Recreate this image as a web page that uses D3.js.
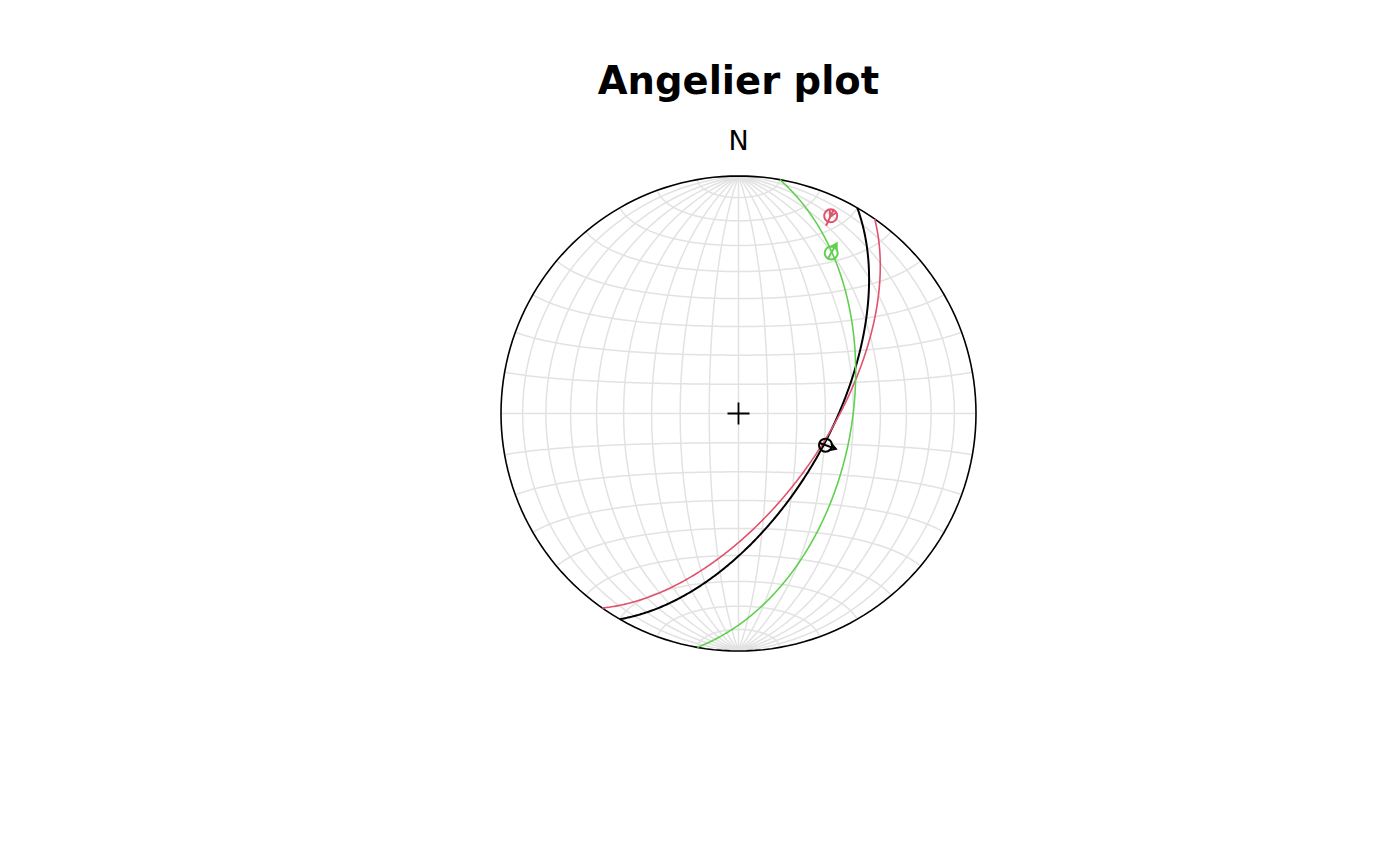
<!DOCTYPE html>
<html>
<head>
<meta charset="utf-8">
<script src="https://cdn.jsdelivr.net/npm/d3@7"></script>
<style>
  html, body { margin: 0; padding: 0; background: #ffffff; }
  svg { display: block; }
</style>
</head>
<body>
<svg id="chart" width="1400" height="866"></svg>
<script>
// ---- data ----
const planeNames   = ["fault 1", "fault 2", "fault 3"];
const planeDipDir  = [120, 125, 100];   // dip direction (deg)
const planeDip     = [59, 60, 50.5];    // dip (deg)
const lineTrend    = [110, 25, 30];     // slip lineation trend (deg)
const linePlunge   = [58, 9, 23];       // slip lineation plunge (deg)
const slipSense    = [1, -1, 1];        // +1 arrow outward along trend, -1 inward
const planeColors  = ["#000000", "#DF536B", "#61D04F"];
const planeWidths  = [2, 1.6, 1.6];
const gridStep     = [10, 10];
const titleText    = "Angelier plot";
const northLabel   = "N";

// ---- layout ----
const cx = 738.5, cy = 413.5, R = 237.5;
const svg = d3.select("#chart");
const rad = Math.PI / 180, deg = 180 / Math.PI;

// lower-hemisphere equal-area (Schmidt) net as equatorial azimuthal equal-area projection
const projection = d3.geoAzimuthalEqualArea()
  .rotate([0, 0])
  .scale(R / Math.SQRT2)
  .translate([cx, cy])
  .clipAngle(90)
  .precision(0.1);
const geoPath = d3.geoPath(projection);

// vector (east, north, down) -> [lon, lat]
function toLonLat(v) {
  const [e, n, d] = v;
  return [Math.atan2(e, d) * deg, Math.asin(Math.max(-1, Math.min(1, n))) * deg];
}
function lineVec(trend, plunge) {
  const t = trend * rad, p = plunge * rad;
  return [Math.cos(p) * Math.sin(t), Math.cos(p) * Math.cos(t), Math.sin(p)];
}
function greatCircle(dipDir, dip) {
  const s = (dipDir - 90) * rad, dd = dipDir * rad, dp = dip * rad;
  const sv = [Math.sin(s), Math.cos(s), 0];
  const dv = [Math.cos(dp) * Math.sin(dd), Math.cos(dp) * Math.cos(dd), Math.sin(dp)];
  return d3.range(0, 180.01, 0.5).map(a => {
    const th = a * rad;
    const v = [0, 1, 2].map(i => Math.cos(th) * sv[i] + Math.sin(th) * dv[i]);
    if (v[2] < 0) v[2] = 0;
    return projection(toLonLat(v));
  });
}

// ---- grid ----
const graticule = d3.geoGraticule()
  .extent([[-180, -90], [180, 90]])
  .step(gridStep)
  .precision(1);
svg.append("path")
  .datum(graticule())
  .attr("d", geoPath)
  .attr("fill", "none")
  .attr("stroke", "#E2E2E2")
  .attr("stroke-width", 1.5);

// ---- primitive circle ----
svg.append("path")
  .datum({type: "Sphere"})
  .attr("d", geoPath)
  .attr("fill", "none")
  .attr("stroke", "#000")
  .attr("stroke-width", 1.6);

// ---- centre cross ----
const c = projection([0, 0]);
svg.append("path")
  .attr("d", `M${c[0] - 11},${c[1]}H${c[0] + 11}M${c[0]},${c[1] - 11}V${c[1] + 11}`)
  .attr("stroke", "#000")
  .attr("stroke-width", 1.8)
  .attr("fill", "none");

// ---- fault planes ----
const lineGen = d3.line().curve(d3.curveLinear);
planeDipDir.forEach((dd, i) => {
  svg.append("path")
    .attr("d", lineGen(greatCircle(dd, planeDip[i])))
    .attr("fill", "none")
    .attr("stroke", planeColors[i])
    .attr("stroke-width", planeWidths[i]);
});

// ---- slip lineations with arrows ----
lineTrend.forEach((t, i) => {
  const P = projection(toLonLat(lineVec(t, linePlunge[i])));
  const col = planeColors[i];
  const g = svg.append("g").attr("stroke", col).attr("fill", "none").attr("stroke-width", 2);
  g.append("circle").attr("cx", P[0]).attr("cy", P[1]).attr("r", 6.5);
  const tr = t * rad;
  let u = [Math.sin(tr), -Math.cos(tr)];
  let a, b, tip;
  if (slipSense[i] > 0) {
    a = [P[0] - 7 * u[0], P[1] - 7 * u[1]];
    b = [P[0] + 11 * u[0], P[1] + 11 * u[1]];
    tip = b;
  } else {
    u = [-u[0], -u[1]];
    a = [P[0] - 7 * u[0], P[1] - 7 * u[1]];
    b = [P[0] + 11 * u[0], P[1] + 11 * u[1]];
    tip = [P[0] + 1 * u[0], P[1] + 1 * u[1]];
  }
  g.append("line").attr("x1", a[0]).attr("y1", a[1]).attr("x2", b[0]).attr("y2", b[1]);
  const ang = Math.atan2(u[1], u[0]);
  const L = 7, spread = 30 * rad;
  const h1 = [tip[0] - L * Math.cos(ang - spread), tip[1] - L * Math.sin(ang - spread)];
  const h2 = [tip[0] - L * Math.cos(ang + spread), tip[1] - L * Math.sin(ang + spread)];
  g.append("path").attr("d", `M${h1[0]},${h1[1]}L${tip[0]},${tip[1]}L${h2[0]},${h2[1]}`);
});

// ---- labels ----
const np = projection([0, 90]);
svg.append("text")
  .attr("x", np[0]).attr("y", np[1] - 26)
  .attr("text-anchor", "middle")
  .attr("font-family", "DejaVu Sans, sans-serif")
  .attr("font-size", 27)
  .text(northLabel);

svg.append("text")
  .attr("x", cx).attr("y", 94)
  .attr("text-anchor", "middle")
  .attr("font-family", "DejaVu Sans, sans-serif")
  .attr("font-weight", "bold")
  .attr("font-size", 38.5)
  .text(titleText);
</script>
</body>
</html>
